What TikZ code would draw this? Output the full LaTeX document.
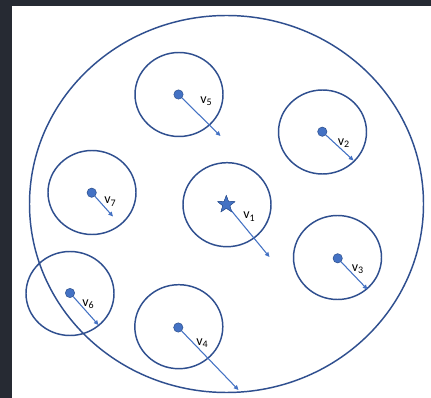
\documentclass[tikz,border=0pt]{standalone}
\usepackage{fontspec}
\setmainfont{Carlito}
\usetikzlibrary{arrows.meta,shapes.geometric}
\definecolor{ringblue}{HTML}{2F4F8F}
\definecolor{arrblue}{HTML}{4472C4}
\definecolor{dotedge}{HTML}{2F528F}
\definecolor{frame}{HTML}{262A33}
\newcommand{\vlab}[1]{v\raisebox{-0.35ex}{\fontsize{7.5}{8}\selectfont #1}}
\tikzset{
  ring/.style={draw=ringblue, line width=1.1pt, ellipse, inner sep=0pt,
    minimum width=88*0.75pt, minimum height=84*0.75pt},
  bigring/.style={draw=ringblue, line width=1.1pt, ellipse, inner sep=0pt,
    minimum width=394*0.75pt, minimum height=377*0.75pt},
  dot/.style={circle, fill=arrblue, draw=dotedge, line width=0.4pt, inner sep=0pt, minimum size=7pt},
  starnode/.style={star, star points=5, star point ratio=2.4, fill=arrblue, draw=dotedge, line width=0.3pt, inner sep=0pt, minimum size=13.5pt},
  arr/.style={draw=arrblue, line width=0.8pt, -{Triangle[length=3.5pt,width=3.2pt]}},
  lab/.style={font=\fontsize{10.5}{12}\selectfont, text=black, inner sep=0pt}
}
\begin{document}
\begin{tikzpicture}[x=0.75pt,y=-0.75pt]
\useasboundingbox (0,0) rectangle (431,398);
\fill[white] (0,0) rectangle (431,398);
\fill[frame] (0,0) rectangle (12,398);
\fill[frame] (0,0) rectangle (431,6);

\node[bigring] (big) at (226.5,204) {};

% v5
\node[ring] (c5) at (179,94.5) {};
\node[dot] (d5) at (178.5,94.5) {};
\coordinate (e5) at (220.5,136);
\draw[arr] (d5) -- (e5);
\node[lab] (l5) at (206,101) {\vlab{5}};

% v2
\node[ring] (c2) at (322.5,132) {};
\node[dot] (d2) at (322.3,131.7) {};
\coordinate (e2) at (353.5,160.5);
\draw[arr] (d2) -- (e2);
\node[lab] (l2) at (343.5,143) {\vlab{2}};

% v7
\node[ring] (c7) at (92,192.5) {};
\node[dot] (d7) at (91.7,192.7) {};
\coordinate (e7) at (113,216.5);
\draw[arr] (d7) -- (e7);
\node[lab] (l7) at (110,201.5) {\vlab{7}};

% v1
\node[ring] (c1) at (227,204.7) {};
\coordinate (e1) at (269.5,257);
\node[starnode] (d1) at (226.3,204.5) {};
\draw[arr] (d1.center) -- (e1);
\node[starnode] at (d1.center) {};
\node[lab] (l1) at (249,216.5) {\vlab{1}};

% v3
\node[ring] (c3) at (337.5,257.5) {};
\node[dot] (d3) at (337.7,258.3) {};
\coordinate (e3) at (367.5,289.5);
\draw[arr] (d3) -- (e3);
\node[lab] (l3) at (357.5,269.5) {\vlab{3}};

% v6
\node[ring] (c6) at (70,293.5) {};
\node[dot] (d6) at (70,293) {};
\coordinate (e6) at (98.5,325);
\draw[arr] (d6) -- (e6);
\node[lab] (l6) at (88,304) {\vlab{6}};

% v4
\node[ring] (c4) at (178.8,326.7) {};
\node[dot] (d4) at (178.3,327.5) {};
\coordinate (e4) at (238.5,390);
\draw[arr] (d4) -- (e4);
\node[lab] (l4) at (202,343) {\vlab{4}};
\end{tikzpicture}
\end{document}
